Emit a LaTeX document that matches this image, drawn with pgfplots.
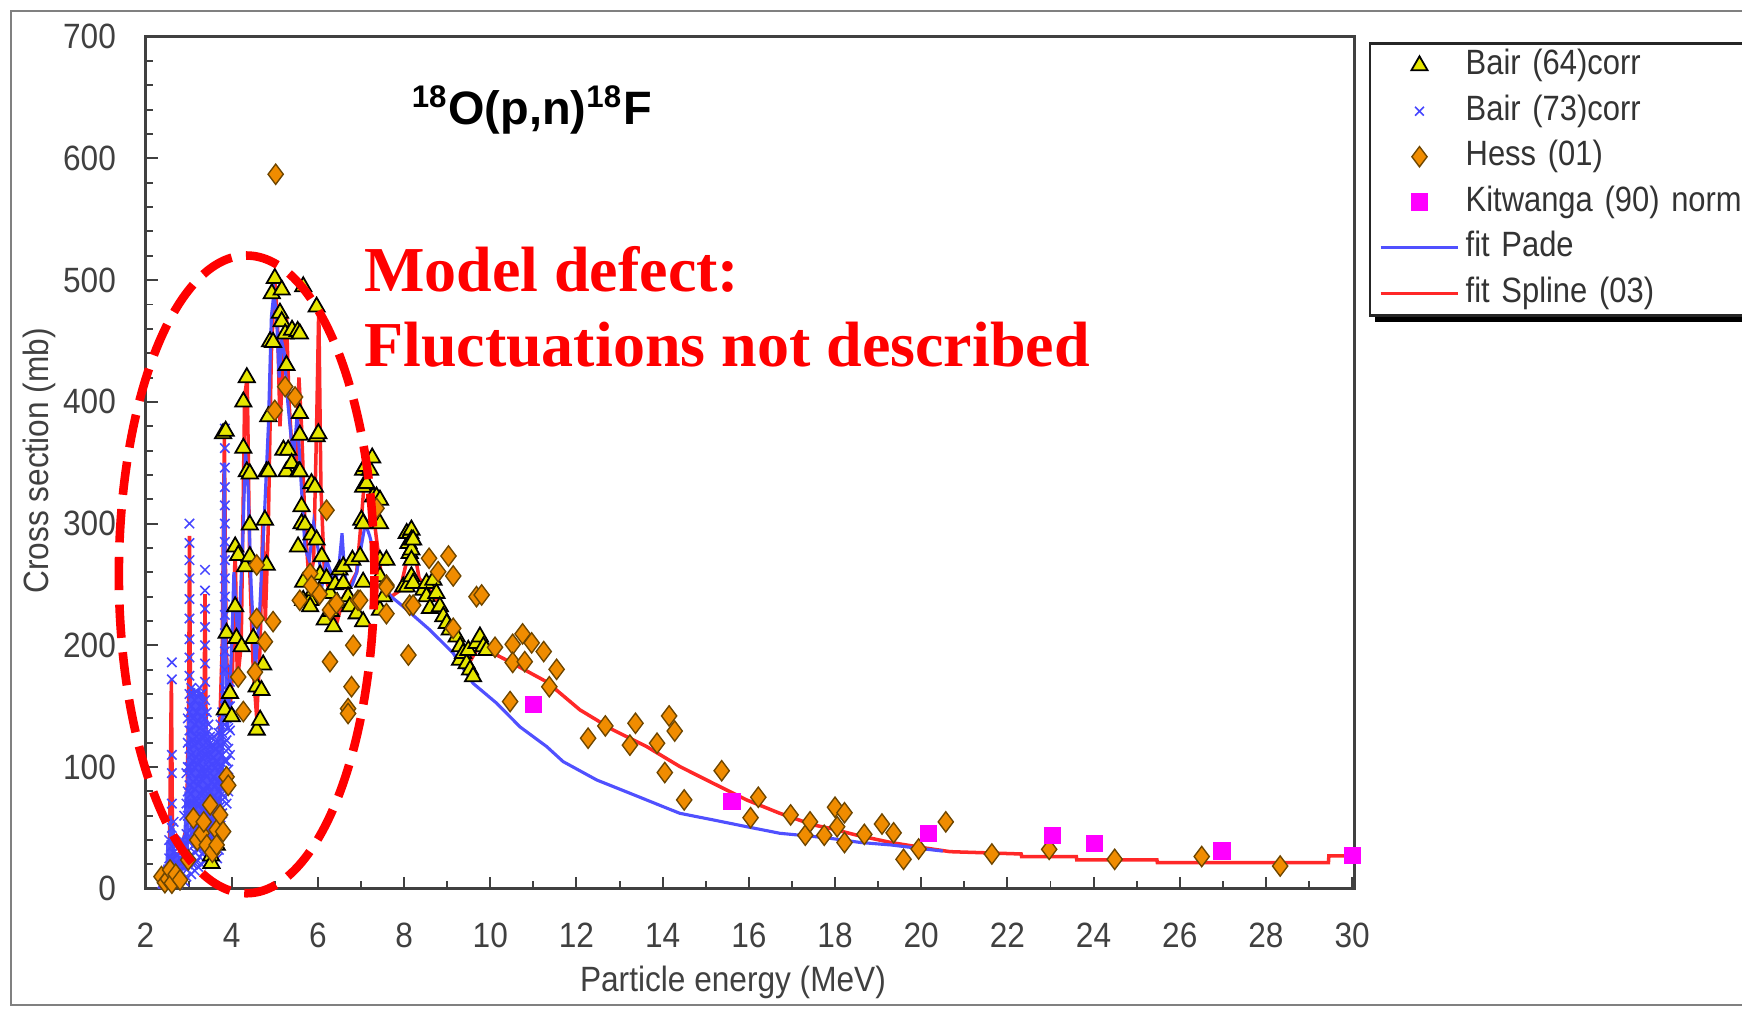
\documentclass[border=0pt]{standalone}
\usepackage{pgfplots}
\pgfplotsset{compat=1.18}
\usepackage{fontspec}
\setmainfont{Liberation Sans}
\newfontfamily\labelfont{Liberation Sans}[FakeStretch=0.9]
\newfontfamily\legfont{Liberation Sans}[FakeStretch=0.88]
\newfontfamily\annfont{Liberation Serif}
\definecolor{triY}{RGB}{230,230,0}
\definecolor{dOr}{RGB}{240,140,0}
\definecolor{dEdge}{RGB}{110,70,0}
\definecolor{xBlue}{RGB}{70,70,255}
\definecolor{kMag}{RGB}{255,0,255}
\definecolor{padeB}{RGB}{80,80,255}
\definecolor{splR}{RGB}{255,40,40}
\definecolor{axG}{RGB}{64,64,64}
\begin{document}
\begin{tikzpicture}
\path[use as bounding box] (0,0) rectangle (156.8mm,90.8mm);
% legend shadow
\fill[black] (123.8mm,61.8mm) rectangle (160mm,86.5mm);
\begin{axis}[
  at={(13.1mm,10.8mm)}, anchor=south west,
  scale only axis, width=108.8mm, height=76.7mm,
  xmin=2, xmax=30.05, ymin=0, ymax=700,
  xtick={2,4,...,30}, ytick={0,100,...,700},
  minor x tick num=1, minor y tick num=4,
  tick align=inside, tick pos=left,
  major tick length=1.1mm, minor tick length=0.7mm,
  axis line style={axG, line width=0.7pt},
  every tick/.style={axG, line width=0.5pt},
  /pgf/number format/assume math mode=true,
  tick label style={font=\labelfont\fontsize{9}{10}\selectfont, text=black!75, inner sep=0pt},
  xticklabel style={anchor=north, yshift=-3mm},
  yticklabel style={anchor=east, xshift=-2.6mm},
  xlabel={Particle energy (MeV)}, ylabel={Cross section (mb)},
  label style={font=\labelfont\fontsize{9}{10}\selectfont, text=black!75},
  x label style={at={(axis description cs:0.486,-0.1095)}, anchor=center},
  y label style={at={(axis description cs:-0.0882,0.502)}, anchor=center},
  legend style={at={(axis description cs:1.012,0.9935)}, anchor=north west,
    draw=black!85, line width=0.6pt, fill=white,
    font=\legfont\fontsize{9}{10}\selectfont, text=black!80,
    inner xsep=0.8mm, inner ysep=0.5mm, row sep=1.1mm,
    nodes={inner sep=0pt, text height=2.3mm, text depth=0.7mm},
    /tikz/every odd column/.append style={column sep=0.5mm},
    /tikz/every even column/.append style={text width=28mm}},
  legend cell align=left,
  legend image code/.code={\draw[mark repeat=2,mark phase=2,#1] plot coordinates {(0mm,0mm) (3.5mm,0mm) (7mm,0mm)};},
]
% Bair (73)corr  -- blue crosses (drawn first, behind the lines)
\addplot[only marks, mark=x, mark size=1.7pt, color=xBlue, line width=0.4pt, forget plot] table[row sep=\\] {
E s\\
2.55 40\\ 2.55 25\\ 2.55 12\\ 2.55 5\\
2.61 186\\ 2.61 172\\ 2.61 110\\ 2.61 95\\ 2.61 70\\ 2.61 50\\ 2.61 35\\ 2.61 25\\ 2.61 15\\ 2.61 8\\
2.65 55\\ 2.65 30\\ 2.65 18\\
2.70 35\\ 2.70 20\\ 2.70 10\\
2.75 28\\ 2.75 14\\ 2.75 4\\
2.80 25\\ 2.80 10\\
2.85 40\\ 2.85 22\\ 2.85 12\\
2.90 60\\ 2.90 35\\ 2.90 18\\ 2.90 6\\
2.95 95\\ 2.95 70\\ 2.95 45\\ 2.95 25\\ 2.95 10\\
2.98 140\\ 2.98 120\\ 2.98 100\\ 2.98 80\\ 2.98 60\\ 2.98 40\\ 2.98 20\\
3.02 300\\ 3.02 284\\ 3.02 270\\ 3.02 255\\ 3.02 238\\ 3.02 222\\ 3.02 205\\ 3.02 190\\ 3.02 175\\ 3.02 160\\
3.02 145\\ 3.02 130\\ 3.02 115\\ 3.02 100\\ 3.02 85\\ 3.02 70\\ 3.02 55\\ 3.02 40\\ 3.02 25\\
3.06 165\\ 3.06 150\\ 3.06 130\\ 3.06 110\\ 3.06 95\\ 3.06 78\\ 3.06 60\\ 3.06 42\\ 3.06 28\\ 3.06 12\\
3.10 160\\ 3.10 140\\ 3.10 122\\ 3.10 105\\ 3.10 88\\ 3.10 70\\ 3.10 52\\ 3.10 35\\ 3.10 20\\
3.14 155\\ 3.14 135\\ 3.14 118\\ 3.14 100\\ 3.14 82\\ 3.14 66\\ 3.14 48\\ 3.14 30\\ 3.14 15\\
3.18 162\\ 3.18 145\\ 3.18 125\\ 3.18 108\\ 3.18 90\\ 3.18 72\\ 3.18 55\\ 3.18 38\\ 3.18 22\\
3.22 158\\ 3.22 138\\ 3.22 120\\ 3.22 102\\ 3.22 85\\ 3.22 68\\ 3.22 50\\ 3.22 32\\ 3.22 18\\
3.26 165\\ 3.26 150\\ 3.26 132\\ 3.26 112\\ 3.26 95\\ 3.26 78\\ 3.26 60\\ 3.26 42\\ 3.26 26\\
3.30 160\\ 3.30 142\\ 3.30 125\\ 3.30 108\\ 3.30 90\\ 3.30 72\\ 3.30 55\\ 3.30 38\\ 3.30 20\\
3.34 150\\ 3.34 135\\ 3.34 118\\ 3.34 100\\ 3.34 82\\ 3.34 65\\ 3.34 48\\ 3.34 30\\
3.38 262\\ 3.38 245\\ 3.38 230\\ 3.38 215\\ 3.38 200\\ 3.38 185\\ 3.38 170\\ 3.38 155\\ 3.38 140\\ 3.38 125\\
3.38 110\\ 3.38 95\\ 3.38 80\\ 3.38 65\\ 3.38 50\\ 3.38 35\\
3.42 145\\ 3.42 128\\ 3.42 110\\ 3.42 92\\ 3.42 75\\ 3.42 58\\ 3.42 40\\ 3.42 25\\
3.46 135\\ 3.46 118\\ 3.46 100\\ 3.46 84\\ 3.46 68\\ 3.46 50\\ 3.46 34\\
3.50 125\\ 3.50 110\\ 3.50 95\\ 3.50 80\\ 3.50 62\\ 3.50 45\\ 3.50 30\\
3.54 118\\ 3.54 102\\ 3.54 88\\ 3.54 72\\ 3.54 56\\ 3.54 40\\ 3.54 24\\
3.58 125\\ 3.58 108\\ 3.58 92\\ 3.58 76\\ 3.58 60\\ 3.58 44\\ 3.58 28\\
3.62 115\\ 3.62 100\\ 3.62 85\\ 3.62 70\\ 3.62 54\\ 3.62 38\\
3.66 120\\ 3.66 104\\ 3.66 88\\ 3.66 72\\ 3.66 56\\ 3.66 40\\ 3.66 25\\
3.70 128\\ 3.70 112\\ 3.70 96\\ 3.70 80\\ 3.70 64\\ 3.70 48\\ 3.70 32\\
3.74 135\\ 3.74 118\\ 3.74 100\\ 3.74 84\\ 3.74 68\\ 3.74 52\\
3.78 145\\ 3.78 128\\ 3.78 110\\ 3.78 94\\ 3.78 78\\ 3.78 62\\ 3.78 46\\
3.84 378\\ 3.84 362\\ 3.84 346\\ 3.84 330\\ 3.84 315\\ 3.84 300\\ 3.84 285\\ 3.84 270\\ 3.84 255\\ 3.84 240\\
3.84 225\\ 3.84 210\\ 3.84 195\\ 3.84 180\\ 3.84 165\\ 3.84 150\\ 3.84 135\\ 3.84 120\\ 3.84 105\\ 3.84 90\\ 3.84 75\\
3.88 160\\ 3.88 140\\ 3.88 122\\ 3.88 105\\ 3.88 88\\ 3.88 70\\
3.92 150\\ 3.92 132\\ 3.92 115\\ 3.92 98\\ 3.92 80\\
3.96 170\\ 3.96 150\\ 3.96 130\\ 3.96 110\\
};
% fit Spline (03)
\addplot[splR, line width=0.9pt, no marks, forget plot] table[row sep=\\] {
E s\\
2.30 0\\ 2.45 5\\ 2.55 20\\ 2.60 172\\ 2.63 25\\ 2.80 30\\ 2.95 50\\ 3.00 150\\ 3.02 290\\ 3.05 120\\
3.15 70\\ 3.30 90\\ 3.36 160\\ 3.38 242\\ 3.41 120\\ 3.55 90\\ 3.70 110\\ 3.78 200\\ 3.83 372\\ 3.87 200\\
3.95 140\\ 4.02 180\\ 4.08 282\\ 4.13 170\\ 4.22 200\\ 4.30 405\\ 4.36 420\\ 4.42 260\\ 4.50 180\\ 4.58 140\\
4.66 200\\ 4.72 300\\ 4.78 220\\ 4.85 300\\ 4.92 440\\ 5.00 500\\ 5.06 470\\ 5.12 380\\ 5.20 440\\ 5.27 470\\
5.33 400\\ 5.40 360\\ 5.48 340\\ 5.56 420\\ 5.62 380\\ 5.70 300\\ 5.80 250\\ 5.90 270\\ 5.97 380\\ 6.02 478\\
6.07 330\\ 6.15 260\\ 6.30 240\\ 6.45 220\\ 6.60 240\\ 6.75 250\\ 6.90 260\\ 7.00 300\\ 7.10 345\\ 7.22 330\\
7.35 290\\ 7.50 250\\ 7.70 240\\ 7.90 245\\ 8.10 275\\ 8.20 285\\ 8.35 255\\ 8.60 245\\ 8.90 230\\ 9.20 205\\
9.50 185\\ 9.75 200\\ 9.99 195\\ 10.53 185\\ 11.31 170\\ 12.08 147\\ 12.85 130.5\\ 13.63 116.8\\ 14.40 100.4\\
15.17 86.7\\ 15.95 73\\ 16.72 62\\ 17.49 52.5\\ 17.88 49.7\\ 18.51 44\\ 19.30 38\\ 20.13 33.3\\ 20.67 30.5\\
22.32 28.6\\ 22.33 26.5\\ 23.60 26.5\\ 23.61 23.7\\ 25.47 23.7\\ 25.48 21.5\\ 29.45 21.5\\ 29.46 27\\ 30.00 27\\
};
% fit Pade
\addplot[padeB, line width=0.8pt, no marks, forget plot] table[row sep=\\] {
E s\\
2.30 0\\ 2.40 5\\ 2.45 20\\ 2.48 3\\ 2.52 40\\ 2.55 10\\ 2.58 60\\ 2.61 20\\ 2.64 50\\ 2.67 8\\
2.70 30\\ 2.74 5\\ 2.78 25\\ 2.82 10\\ 2.86 40\\ 2.90 15\\ 2.94 80\\ 2.97 30\\ 3.00 140\\ 3.02 60\\
3.04 160\\ 3.06 40\\ 3.08 150\\ 3.10 35\\ 3.12 165\\ 3.14 45\\ 3.16 155\\ 3.18 30\\ 3.20 160\\ 3.22 50\\
3.24 165\\ 3.26 40\\ 3.28 150\\ 3.30 35\\ 3.32 160\\ 3.34 45\\ 3.36 150\\ 3.38 60\\ 3.40 140\\ 3.42 40\\
3.44 130\\ 3.46 35\\ 3.48 125\\ 3.50 30\\ 3.52 120\\ 3.54 35\\ 3.56 115\\ 3.58 40\\ 3.60 120\\ 3.62 45\\
3.64 115\\ 3.66 50\\ 3.68 125\\ 3.70 55\\ 3.72 130\\ 3.74 60\\ 3.76 140\\ 3.78 80\\ 3.80 250\\ 3.83 350\\
3.86 200\\ 3.90 130\\ 3.95 160\\ 4.00 200\\ 4.05 260\\ 4.10 230\\ 4.15 200\\ 4.25 280\\ 4.32 360\\ 4.38 330\\
4.45 250\\ 4.55 180\\ 4.65 230\\ 4.75 300\\ 4.85 380\\ 4.92 470\\ 4.98 490\\ 5.04 470\\ 5.10 420\\ 5.16 450\\
5.22 440\\ 5.30 400\\ 5.38 370\\ 5.45 360\\ 5.52 390\\ 5.60 340\\ 5.70 280\\ 5.80 270\\ 5.90 300\\ 6.00 280\\
6.10 250\\ 6.20 270\\ 6.30 260\\ 6.40 250\\ 6.50 270\\ 6.56 292\\ 6.62 260\\ 6.70 245\\ 6.80 250\\ 6.90 260\\
7.00 280\\ 7.10 300\\ 7.20 290\\ 7.35 270\\ 7.50 250\\ 7.70 240\\ 7.94 233\\ 8.60 212.6\\ 9.14 193.5\\ 9.60 168.8\\
10.15 152.4\\ 10.69 133\\ 11.31 116.8\\ 11.69 104.5\\ 12.47 89.4\\ 13.24 78.5\\ 14.01 67.5\\ 14.40 62\\ 15.17 56.6\\
15.95 51\\ 16.72 45.6\\ 17.49 43\\ 17.88 41.5\\ 18.60 38\\ 19.30 36\\ 20.00 33\\ 20.50 31\\
};
% Bair (64)corr
\addplot[only marks, mark=triangle*, mark size=2.4pt, mark options={fill=triY, draw=black, line width=0.45pt}] table[row sep=\\] {
E s\\
3.52 27\\ 3.53 21\\ 3.65 36\\ 3.80 374\\ 3.86 376\\ 3.84 147\\ 3.88 210\\ 3.96 160.6\\ 4.00 141.5\\ 4.08 281\\
4.15 274\\ 4.08 231.8\\ 4.11 205.8\\ 4.23 199\\ 4.31 264.7\\ 4.27 362\\ 4.27 400\\ 4.35 420\\ 4.35 342.7\\ 4.42 299\\
4.42 273\\ 4.42 341\\ 4.50 205.8\\ 4.58 166\\ 4.58 130.5\\ 4.66 138.7\\ 4.69 163\\ 4.73 184\\ 4.77 303\\ 4.81 342.7\\
4.81 266\\ 4.85 388\\ 4.85 342.7\\ 4.89 449.5\\ 4.93 489\\ 4.96 449\\ 5.00 501.5\\ 5.12 473\\ 5.16 492\\ 5.16 466\\
5.20 360.5\\ 5.24 456\\ 5.27 430\\ 5.27 342.7\\ 5.31 360.5\\ 5.39 349.5\\ 5.40 459\\ 5.53 458\\ 5.54 342.7\\ 5.54 281\\
5.58 456\\ 5.58 390.6\\ 5.58 372.8\\ 5.58 342.7\\ 5.62 314\\ 5.62 300\\ 5.66 494.7\\ 5.66 252\\ 5.66 237\\ 5.70 299\\
5.82 237\\ 5.82 231.8\\ 5.85 290.7\\ 5.85 333\\ 5.90 245\\ 5.93 330\\ 5.97 478\\ 5.97 371.5\\ 5.97 286.6\\ 6.01 374\\
6.05 258\\ 6.09 273\\ 6.16 221\\ 6.20 255\\ 6.28 242.8\\ 6.30 228\\ 6.36 215.4\\ 6.40 250\\ 6.45 235\\ 6.50 262\\
6.59 264.7\\ 6.59 251\\ 6.70 240\\ 6.74 231.8\\ 6.80 270\\ 6.90 226\\ 6.98 273\\ 7.01 303\\ 7.05 344\\ 7.05 330\\
7.05 300\\ 7.05 252\\ 7.05 219.5\\ 7.10 347\\ 7.13 333\\ 7.21 344\\ 7.26 354\\ 7.28 322\\ 7.36 322\\ 7.44 300\\
7.44 319.4\\ 7.44 270\\ 7.44 256.5\\ 7.44 229\\ 7.53 240\\ 7.59 270\\ 7.98 248\\ 8.06 292\\ 8.06 248\\ 8.10 283.8\\
8.13 275.6\\ 8.14 292\\ 8.17 294.8\\ 8.17 286.6\\ 8.17 278.4\\ 8.17 270\\ 8.17 256.5\\ 8.21 286.6\\ 8.21 251\\ 8.45 245.5\\
8.52 251\\ 8.52 240\\ 8.60 230.4\\ 8.68 253.7\\ 8.75 242.8\\ 8.83 231.8\\ 8.91 223.6\\ 8.99 218\\ 9.06 212.7\\ 9.22 207\\
9.30 199\\ 9.30 188\\ 9.37 193.5\\ 9.45 185\\ 9.49 196\\ 9.53 179.8\\ 9.60 174.3\\ 9.68 201.7\\ 9.76 207\\ 9.84 199\\
9.91 196\\
};
\addlegendentry{Bair (64)corr}
\addlegendimage{only marks, mark=x, mark size=1.6pt, color=xBlue, line width=0.4pt}
\addlegendentry{Bair (73)corr}
% Hess (01)
\addplot[only marks, mark=diamond*, mark size=2.6pt, mark options={fill=dOr, draw=dEdge, line width=0.35pt}] table[row sep=\\] {
E s\\
2.37 10\\ 2.45 5\\ 2.52 8\\ 2.57 15.5\\ 2.61 4.6\\ 2.70 12\\ 2.80 7.3\\ 2.99 23.7\\ 3.11 58\\ 3.20 40\\
3.30 45.6\\ 3.35 55\\ 3.42 36\\ 3.50 69\\ 3.55 30\\ 3.65 48.4\\ 3.65 36\\ 3.73 60.7\\ 3.80 47\\ 3.88 92\\
3.92 85\\ 4.15 174\\ 4.27 145.6\\ 4.54 178\\ 4.58 222\\ 4.58 266\\ 4.77 203\\ 4.96 219.5\\ 5.00 393\\ 5.02 587\\
5.24 412.5\\ 5.47 404\\ 5.58 237\\ 5.82 259\\ 5.85 249\\ 6.04 242\\ 6.20 311\\ 6.28 229\\ 6.28 186.6\\ 6.43 234.5\\
6.70 148\\ 6.70 144\\ 6.78 166\\ 6.82 200\\ 6.93 237\\ 6.98 237\\ 7.36 312.6\\ 7.59 249.5\\ 7.59 248\\ 7.59 226\\
8.10 192\\ 8.13 233\\ 8.21 233\\ 8.58 271.5\\ 8.79 260.5\\ 9.03 273.4\\ 9.14 257\\ 9.14 214\\ 9.68 240\\ 9.80 241.4\\
10.11 198.4\\ 10.52 200.8\\ 10.52 186\\ 10.75 209.4\\ 10.80 186.6\\ 10.96 202\\ 11.24 194.9\\ 11.37 166\\ 11.54 180.3\\ 10.46 153.8\\
12.27 123.7\\ 12.67 133.8\\ 13.24 118\\ 13.37 136\\ 13.87 119.6\\ 14.05 95.5\\ 14.15 142\\ 14.28 129.6\\ 14.50 73\\ 15.37 97\\
16.04 58.4\\ 16.22 75.2\\ 16.97 60.7\\ 17.31 44\\ 17.42 55\\ 17.75 44\\ 18.00 67\\ 18.05 51\\ 18.22 62.5\\ 18.22 38\\
18.68 44.7\\ 19.09 53.2\\ 19.36 46\\ 19.59 24.2\\ 19.94 32.7\\ 20.57 55\\ 21.64 28.6\\ 22.97 32.4\\ 24.49 24.2\\ 26.51 26.5\\
28.33 18.7\\
};
\addlegendentry{Hess (01)}
% Kitwanga (90) norm
\addplot[only marks, mark=square*, mark size=2pt, mark options={fill=kMag, draw=kMag}] table[row sep=\\] {
E s\\
11.00 151.5\\ 15.61 72\\ 20.17 45.6\\ 23.04 43.8\\ 24.02 37.4\\ 26.98 31\\ 30.00 27.4\\
};
\addlegendentry{Kitwanga (90) norm}
\addlegendimage{padeB, line width=0.8pt, no marks}
\addlegendentry{fit Pade}
\addlegendimage{splR, line width=0.9pt, no marks}
\addlegendentry{fit Spline (03)}
\end{axis}
% outer frame
\draw[black!50, line width=0.6pt] (160mm,89.8mm) -- (1mm,89.8mm) -- (1mm,0.35mm) -- (160mm,0.35mm);
% title
\node[anchor=base west, inner sep=0pt, font=\bfseries\fontsize{12}{14}\selectfont] at (37mm,79.6mm) {\textsuperscript{18}O(p,n)\textsuperscript{18}F};
% annotation
\node[anchor=base west, inner sep=0pt, text=red, font=\annfont\bfseries\fontsize{16.4}{19}\selectfont] at (32.7mm,64.6mm) {Model defect:};
\node[anchor=base west, inner sep=0pt, text=red, font=\annfont\bfseries\fontsize{16.4}{19}\selectfont] at (32.7mm,57.8mm) {Fluctuations not described};
\draw[red, line width=2.2pt, dash pattern=on 3mm off 1.3mm] (22.2mm,39.1mm) ellipse [x radius=11.5mm, y radius=28.7mm];
\end{tikzpicture}
\end{document}
